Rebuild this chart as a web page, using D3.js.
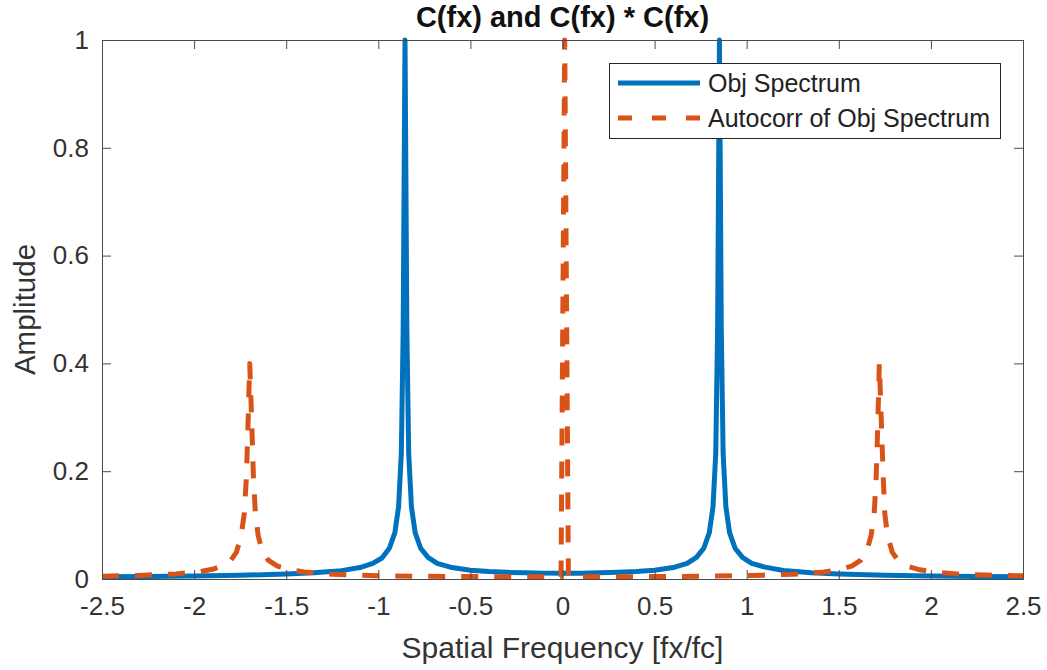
<!DOCTYPE html>
<html>
<head>
<meta charset="utf-8">
<script src="https://cdn.jsdelivr.net/npm/d3@7"></script>
<style>
  html, body { margin: 0; padding: 0; background: #fff; }
  svg { display: block; font-family: "Liberation Sans", Arial, Helvetica, sans-serif; }
</style>
</head>
<body>
<svg id="chart" width="1047" height="670"></svg>
<script>
// ---- data ----
const objX = [-2.5, -2.25, -2.0, -1.75, -1.5, -1.35, -1.2, -1.1, -1.03, -0.98, -0.94, -0.91, -0.89, -0.875, -0.865,
  -0.855, -0.845, -0.835, -0.82, -0.80, -0.77, -0.73, -0.68, -0.6, -0.5, -0.4, -0.3, -0.2, -0.1, 0,
  0.1, 0.2, 0.3, 0.4, 0.5, 0.6, 0.677, 0.727, 0.767, 0.797, 0.817, 0.832, 0.842,
  0.852, 0.862, 0.872, 0.887, 0.907, 0.937, 0.977, 1.027, 1.1, 1.2, 1.35, 1.5, 1.75, 2.0, 2.25, 2.5];
const objY = [0.0042, 0.0048, 0.0056, 0.0069, 0.0091, 0.0114, 0.0155, 0.0212, 0.0288, 0.039, 0.057, 0.086, 0.134, 0.233, 0.46,
  1.0, 0.463, 0.233, 0.134, 0.086, 0.057, 0.040, 0.029, 0.0212, 0.0164, 0.0138, 0.0123, 0.0114, 0.0109, 0.0108,
  0.0109, 0.0114, 0.0123, 0.0138, 0.0164, 0.0212, 0.029, 0.040, 0.057, 0.086, 0.134, 0.233, 0.463,
  1.0, 0.463, 0.233, 0.134, 0.086, 0.057, 0.040, 0.029, 0.022, 0.0157, 0.0115, 0.0092, 0.0069, 0.0056, 0.0048, 0.0042];

const acX = [-2.5, -2.3, -2.1, -1.98, -1.9, -1.85, -1.8, -1.77, -1.745, -1.728, -1.716, -1.707,
  -1.698, -1.688, -1.678, -1.667, -1.652, -1.628, -1.598, -1.548, -1.48, -1.4, -1.25, -1.0, -0.75, -0.5, -0.25, -0.1, -0.008,
  0.012, 0.032, 0.1, 0.25, 0.5, 0.75, 1.0, 1.25, 1.42, 1.5, 1.57, 1.62, 1.65, 1.675, 1.692, 1.703, 1.712,
  1.72, 1.73, 1.741, 1.75, 1.765, 1.79, 1.82, 1.87, 1.94, 2.02, 2.14, 2.3, 2.5];
const acY = [0.0052, 0.0067, 0.0095, 0.013, 0.018, 0.024, 0.035, 0.05, 0.08, 0.12, 0.19, 0.29,
  0.40, 0.30, 0.19, 0.12, 0.08, 0.05, 0.035, 0.024, 0.017, 0.013, 0.0088, 0.0062, 0.0050, 0.0045, 0.0042, 0.0041, 0.0041,
  1.0, 0.0041, 0.0041, 0.0042, 0.0045, 0.0050, 0.0062, 0.0088, 0.013, 0.017, 0.024, 0.035, 0.05, 0.08, 0.12, 0.19, 0.29,
  0.40, 0.30, 0.19, 0.12, 0.08, 0.05, 0.035, 0.024, 0.017, 0.013, 0.0095, 0.0072, 0.0058];

const xTicks = [-2.5, -2, -1.5, -1, -0.5, 0, 0.5, 1, 1.5, 2, 2.5];
const xTickLabels = ["-2.5", "-2", "-1.5", "-1", "-0.5", "0", "0.5", "1", "1.5", "2", "2.5"];
const yTicks = [0, 0.2, 0.4, 0.6, 0.8, 1];
const yTickLabels = ["0", "0.2", "0.4", "0.6", "0.8", "1"];
const seriesNames = ["Obj Spectrum", "Autocorr of Obj Spectrum"];
const titleText = "C(fx) and C(fx) * C(fx)";
const xLabelText = "Spatial Frequency [fx/fc]";
const yLabelText = "Amplitude";

// ---- layout ----
const L = 102, R = 1023, T = 40, B = 579;
const blue = "#0072BD", orange = "#D95319", axisCol = "#262626", textCol = "#333333";

const svg = d3.select("#chart");
const x = d3.scaleLinear().domain([-2.5, 2.5]).range([L, R]);
const y = d3.scaleLinear().domain([0, 1]).range([B, T]);

const line = d3.line().x(d => x(d[0])).y(d => y(d[1]));
const objData = objX.map((v, i) => [v, objY[i]]);
const acData = acX.map((v, i) => [v, acY[i]]);

svg.append("path").datum(objData).attr("d", line)
  .attr("fill", "none").attr("stroke", blue).attr("stroke-width", 5)
  .attr("stroke-linejoin", "round");
svg.append("path").datum(acData).attr("d", line)
  .attr("fill", "none").attr("stroke", orange).attr("stroke-width", 5)
  .attr("stroke-dasharray", "17,16").attr("stroke-linejoin", "round");

// ---- axes (box with inward ticks on all sides) ----
const tickLen = 9;
const axB = svg.append("g").attr("transform", `translate(0,${B})`)
  .call(d3.axisBottom(x).tickValues(xTicks).tickSizeInner(-tickLen).tickSizeOuter(0).tickPadding(22)
    .tickFormat((d, i) => xTickLabels[i]));
const axT = svg.append("g").attr("transform", `translate(0,${T})`)
  .call(d3.axisTop(x).tickValues(xTicks).tickSizeInner(-tickLen).tickSizeOuter(0).tickFormat(""));
const axL = svg.append("g").attr("transform", `translate(${L},0)`)
  .call(d3.axisLeft(y).tickValues(yTicks).tickSizeInner(-tickLen).tickSizeOuter(0).tickPadding(13)
    .tickFormat((d, i) => yTickLabels[i]));
const axR = svg.append("g").attr("transform", `translate(${R},0)`)
  .call(d3.axisRight(y).tickValues(yTicks).tickSizeInner(-tickLen).tickSizeOuter(0).tickFormat(""));

[axB, axT, axL, axR].forEach(g => {
  g.selectAll("path.domain").attr("stroke", "#4a4a4a").attr("stroke-width", 1);
  g.selectAll(".tick line").attr("stroke", "#4a4a4a").attr("stroke-width", 1);
  g.selectAll("text").attr("fill", textCol).style("font-size", "26px")
    .style("font-family", '"Liberation Sans", Arial, Helvetica, sans-serif');
});
axB.selectAll("text").attr("dy", "0.55em");

// ---- title & labels ----
svg.append("text").attr("x", (L + R) / 2).attr("y", 27).attr("text-anchor", "middle")
  .style("font-size", "29px").style("font-weight", "bold").attr("fill", "#111").text(titleText);
svg.append("text").attr("x", (L + R) / 2).attr("y", 658).attr("text-anchor", "middle")
  .style("font-size", "30px").attr("fill", textCol).text(xLabelText);
svg.append("text").attr("transform", `translate(35,${(T + B) / 2}) rotate(-90)`).attr("text-anchor", "middle")
  .style("font-size", "29.5px").attr("fill", textCol).text(yLabelText);

// ---- legend ----
const lg = svg.append("g");
lg.append("rect").attr("x", 609.5).attr("y", 63.5).attr("width", 391).attr("height", 75)
  .attr("fill", "#fff").attr("stroke", axisCol).attr("stroke-width", 1);
const rows = [
  { name: seriesNames[0], color: blue, dash: null, cy: 83 },
  { name: seriesNames[1], color: orange, dash: "14,20", cy: 118 }
];
rows.forEach(r => {
  const ln = lg.append("line").attr("x1", 618).attr("x2", 700).attr("y1", r.cy).attr("y2", r.cy)
    .attr("stroke", r.color).attr("stroke-width", 5);
  if (r.dash) ln.attr("stroke-dasharray", r.dash);
  lg.append("text").attr("x", 708).attr("y", r.cy).attr("dy", "0.35em")
    .style("font-size", "25px").attr("fill", "#222").text(r.name);
});
</script>
</body>
</html>
